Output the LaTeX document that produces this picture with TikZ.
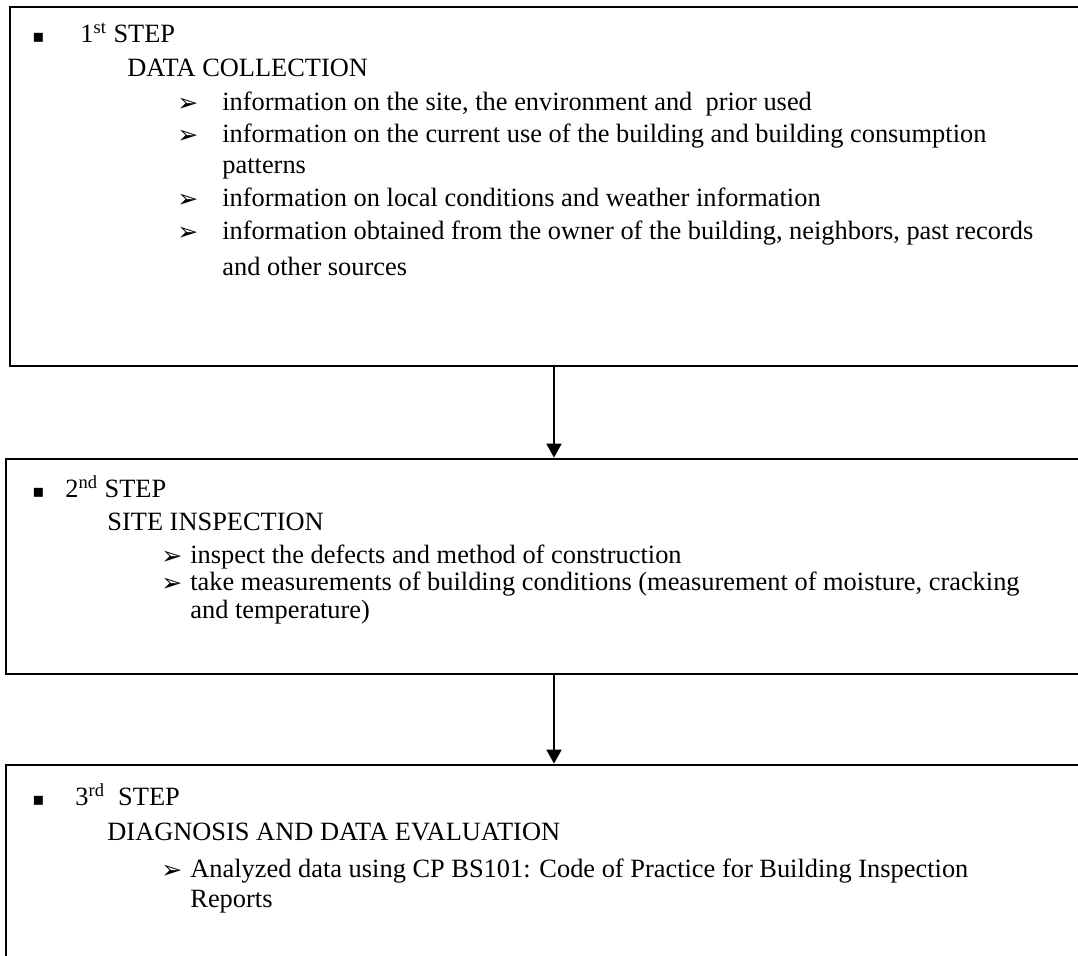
\documentclass[tikz,border=0pt]{standalone}
\usepackage{fontspec}
\setmainfont{Liberation Serif}
\newfontfamily\symfont{DejaVu Sans}
\usetikzlibrary{arrows.meta,fit}
\begin{document}
\begin{tikzpicture}[x=0.5pt,y=-0.5pt,
  box/.style={draw, line width=1.4pt, inner sep=0pt},
  txt/.style={anchor=base west, inner sep=0pt, font=\fontsize{13.2}{15}\selectfont},
  sq/.style={anchor=base west, inner sep=0pt, font=\symfont\fontsize{9}{10}\selectfont},
  arrb/.style={anchor=base west, inner sep=0pt, font=\symfont\fontsize{12.5}{14}\selectfont},
  arr/.style={line width=1pt, -{Triangle[length=7pt,width=7.5pt]}}]
\useasboundingbox (0,0) rectangle (1078,955);
\clip (0,0) rectangle (1078,955);
% boxes
\node[box, fit={(10,7) (1100,366)}] (b1) {};
\node[box, fit={(6,459) (1100,674)}] (b2) {};
\node[box, fit={(6,765) (1100,990)}] (b3) {};
% connectors
\coordinate (ax) at (554,0);
\draw[arr] (ax |- b1.south) -- (ax |- b2.north);
\draw[arr] (ax |- b2.south) -- (ax |- b3.north);
% box 1 text
\node[sq] (s1) at (32,42) {▪};
\node[txt] (t1a) at (80,42) {1\textsuperscript{st} STEP};
\node[txt] (t1b) at (127,76) {DATA COLLECTION};
\node[arrb] (a11) at (177,111) {➢};
\node[txt] (t11) at (222,110) {information on the site, the environment and \ prior used};
\node[arrb] (a12) at (177,143) {➢};
\node[txt] (t12) at (222,142) {information on the current use of the building and building consumption};
\node[txt] (t12b) at (222,173) {patterns};
\node[arrb] (a13) at (177,207) {➢};
\node[txt] (t13) at (222,206) {information on local conditions and weather information};
\node[arrb] (a14) at (177,240) {➢};
\node[txt] (t14) at (222,239) {information obtained from the owner of the building, neighbors, past records};
\node[txt] (t14b) at (222,275) {and other sources};
% box 2 text
\node[sq] (s2) at (32,497) {▪};
\node[txt] (t2a) at (65,497) {2\textsuperscript{nd} STEP};
\node[txt] (t2b) at (107,530) {SITE INSPECTION};
\node[arrb] (a21) at (161,564) {➢};
\node[txt] (t21) at (190,563) {inspect the defects and method of construction};
\node[arrb] (a22) at (161,591) {➢};
\node[txt] (t22) at (190,590) {take measurements of building conditions (measurement of moisture, cracking};
\node[txt] (t22b) at (190,618) {and temperature)};
% box 3 text
\node[sq] (s3) at (32,805) {▪};
\node[txt] (t3a) at (75,805) {3\textsuperscript{rd}\ \ STEP};
\node[txt] (t3b) at (107,840) {DIAGNOSIS AND DATA EVALUATION};
\node[arrb] (a31) at (161,878) {➢};
\node[txt] (t31) at (190,877) {Analyzed data using CP BS101: Code of Practice for Building Inspection};
\node[txt] (t31b) at (190,907) {Reports};
\end{tikzpicture}
\end{document}
